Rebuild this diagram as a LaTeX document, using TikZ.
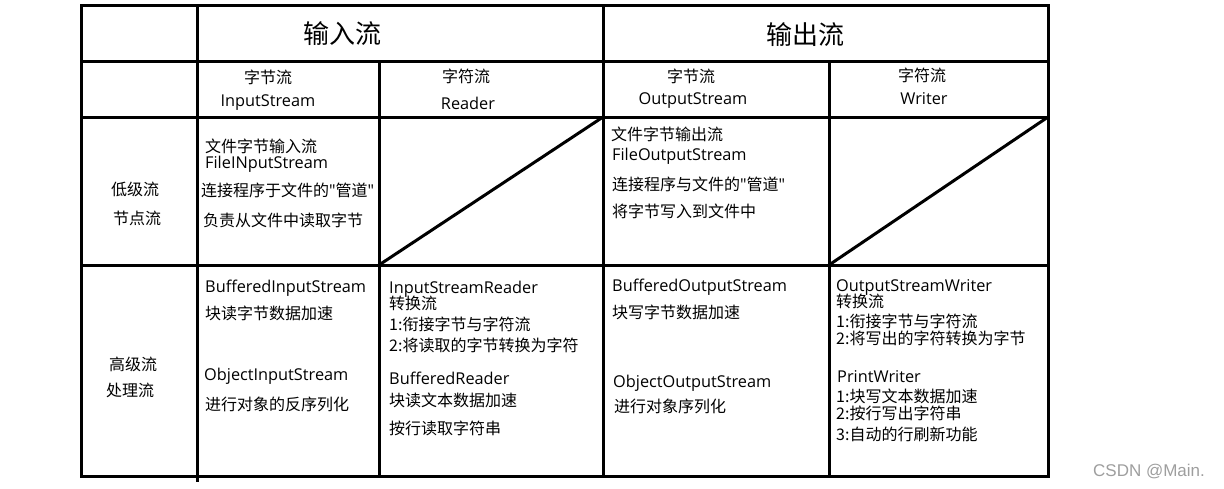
\documentclass[tikz,border=0pt]{standalone}
\usepackage{fontspec}
\setmainfont{Noto Sans CJK SC}
\newfontfamily\lat{Open Sans}
\newfontfamily\wmfont{Liberation Sans}
\newcommand\qq{{\lat\fontsize{16.3}{16}\selectfont\symbol{"22}}}
\begin{document}
\begin{tikzpicture}[x=1pt,y=-1pt,
  grid/.style={line width=3pt,black},
  txt/.style={anchor=west,inner sep=0pt,text height=14pt,text depth=2.5pt,font=\fontsize{16}{16}\selectfont},
  ctxt/.style={anchor=center,inner sep=0pt,text height=14pt,text depth=2.5pt,font=\fontsize{16}{16}\selectfont},
  ltxt/.style={txt,font=\lat\fontsize{16.3}{16}\selectfont},
  lctxt/.style={ctxt,font=\lat\fontsize{16.3}{16}\selectfont},
  head/.style={anchor=center,inner sep=0pt,font=\fontsize{26}{26}\selectfont},
  wmark/.style={anchor=center,inner sep=0pt,font=\wmfont\fontsize{17}{17}\selectfont,text=black!38}]
\useasboundingbox (0,0) rectangle (1224,488);
% grid
\draw[grid] (81,5) rectangle (1048,476);
\draw[grid] (81,61) -- (1048,61);
\draw[grid] (81,117) -- (1048,117);
\draw[grid] (81,265) -- (1048,265);
\draw[grid] (197,5) -- (197,482);
\draw[grid] (379,61) -- (379,476);
\draw[grid] (603,5) -- (603,476);
\draw[grid] (829,61) -- (829,476);
% diagonals
\draw[grid] (379,265) -- (603,117);
\draw[grid] (829,265) -- (1048,117);
% headings
\node[head] (hin) at (342,34) {输入流};
\node[head] (hout) at (805,35) {输出流};
% column headers
\node[ctxt] (c1a) at (268,78) {字节流};
\node[lctxt] (c1b) at (268,101) {InputStream};
\node[ctxt] (c2a) at (466,77) {字符流};
\node[lctxt] (c2b) at (468,104) {Reader};
\node[ctxt] (c3a) at (691,77) {字节流};
\node[lctxt] (c3b) at (693,99) {OutputStream};
\node[ctxt] (c4a) at (922,76) {字符流};
\node[lctxt] (c4b) at (924,99) {Writer};
% row headers
\node[ctxt] (r1a) at (135,190) {低级流};
\node[ctxt] (r1b) at (137,219) {节点流};
\node[ctxt] (r2a) at (133,365) {高级流};
\node[ctxt] (r2b) at (130,391) {处理流};
% low-level input bytes
\node[txt] (a1) at (205,147) {文件字节输入流};
\node[ltxt] (a2) at (205,163) {FileINputStream};
\node[txt] (a3) at (201,191) {连接程序于文件的\qq 管道\qq};
\node[txt] (a4) at (203,221) {负责从文件中读取字节};
% low-level output bytes
\node[txt] (b1) at (611,135) {文件字节输出流};
\node[ltxt] (b2) at (612,155) {FileOutputStream};
\node[txt] (b3) at (612,185) {连接程序与文件的\qq 管道\qq};
\node[txt] (b4) at (612,212) {将字节写入到文件中};
% high-level input bytes
\node[ltxt] (d1) at (205,287) {BufferedInputStream};
\node[txt] (d2) at (205,314) {块读字节数据加速};
\node[ltxt] (d3) at (204,375) {ObjectInputStream};
\node[txt] (d4) at (205,405) {进行对象的反序列化};
% high-level input chars
\node[ltxt] (e1) at (389,288) {InputStreamReader};
\node[txt] (e2) at (389,304) {转换流};
\node[txt] (e3) at (389,325) {1:衔接字节与字符流};
\node[txt] (e4) at (389,346) {2:将读取的字节转换为字符};
\node[ltxt] (e5) at (389,379) {BufferedReader};
\node[txt] (e6) at (389,401) {块读文本数据加速};
\node[txt] (e7) at (389,429) {按行读取字符串};
% high-level output bytes
\node[ltxt] (f1) at (612,286) {BufferedOutputStream};
\node[txt] (f2) at (612,313) {块写字节数据加速};
\node[ltxt] (f3) at (613,382) {ObjectOutputStream};
\node[txt] (f4) at (614,407) {进行对象序列化};
% high-level output chars
\node[ltxt] (g1) at (836,286) {OutputStreamWriter};
\node[txt] (g2) at (836,302) {转换流};
\node[txt] (g3) at (836,322) {1:衔接字节与字符流};
\node[txt] (g4) at (836,339) {2:将写出的字符转换为字节};
\node[ltxt] (g5) at (837,377) {PrintWriter};
\node[txt] (g6) at (836,397) {1:块写文本数据加速};
\node[txt] (g7) at (836,414) {2:按行写出字符串};
\node[txt] (g8) at (836,435) {3:自动的行刷新功能};
% watermark
\node[wmark] (wm) at (1149,472) {CSDN @Main.};
\end{tikzpicture}
\end{document}
